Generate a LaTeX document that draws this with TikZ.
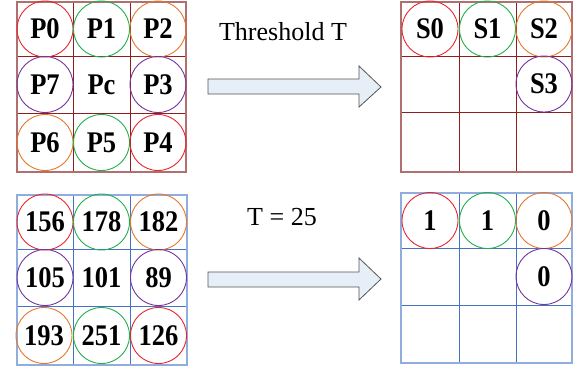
\documentclass[tikz,border=0pt]{standalone}
\usepackage{fontspec}
\setmainfont{Liberation Serif}
\definecolor{cred}{HTML}{E8252D}
\definecolor{cgreen}{HTML}{22AE4C}
\definecolor{corange}{HTML}{E5772B}
\definecolor{cpurple}{HTML}{7434A0}
\definecolor{rinner}{HTML}{8E1F1F}
\definecolor{router}{HTML}{B07070}
\definecolor{binner}{HTML}{4472C4}
\definecolor{bouter}{HTML}{8FAEDD}
\definecolor{arrfill}{HTML}{E6EEF7}
\definecolor{arrline}{HTML}{555555}
\newcommand\tall[1]{\scalebox{1}[1.13]{#1}}
\begin{document}
\begin{tikzpicture}[x=1pt,y=-1pt,
  lab/.style={font=\fontsize{26.5}{30}\selectfont\bfseries, inner sep=0pt},
  ring/.style={lab, circle, draw=#1, line width=0.9pt, minimum size=56pt},
  plain/.style={font=\fontsize{26}{30}\selectfont, inner sep=0pt},
  blockarrow/.style={fill=arrfill, draw=arrline, line width=0.8pt, line join=miter}]
\useasboundingbox (0,0) rectangle (576,373);
% ---------- grids ----------
% top-left
\draw[rinner, line width=1pt] (73,2) -- (73,172) (130,2) -- (130,172) (17,56) -- (186,56) (17,113) -- (186,113);
\draw[router, line width=1.8pt] (17,2) rectangle (186,172);
% bottom-left
\draw[binner, line width=1pt] (73,195) -- (73,365) (130,195) -- (130,365) (17,249) -- (187,249) (17,306) -- (187,306);
\draw[bouter, line width=1.8pt] (17,195) rectangle (187,365);
% top-right
\draw[rinner, line width=1pt] (459,2) -- (459,172) (516,2) -- (516,172) (401,56) -- (572,56) (401,112) -- (572,112);
\draw[router, line width=1.5pt] (401,2) rectangle (572,172);
% bottom-right
\draw[binner, line width=1pt] (459,193) -- (459,363) (516,193) -- (516,363) (401,248) -- (572,248) (401,305) -- (572,305);
\draw[bouter, line width=1.5pt] (401,193) rectangle (572,363);
% ---------- top-left labels ----------
\node[ring=cred]    (p0) at (45,29)   {\tall{P0}};
\node[ring=cgreen]  (p1) at (101.5,29) {\tall{P1}};
\node[ring=corange] (p2) at (158,29)  {\tall{P2}};
\node[ring=cpurple] (p7) at (45,84.5) {\tall{P7}};
\node[lab]          (pc) at (101.5,84.5) {\tall{Pc}};
\node[ring=cpurple] (p3) at (158,84.5) {\tall{P3}};
\node[ring=corange] (p6) at (45,142.5) {\tall{P6}};
\node[ring=cgreen]  (p5) at (101.5,142.5) {\tall{P5}};
\node[ring=cred]    (p4) at (158,142.5) {\tall{P4}};
% ---------- bottom-left values ----------
\node[ring=cred]    (v0) at (45,222)   {\tall{156}};
\node[ring=cgreen]  (v1) at (101.5,222) {\tall{178}};
\node[ring=corange] (v2) at (158.5,222) {\tall{182}};
\node[ring=cpurple] (v7) at (45,277.5) {\tall{105}};
\node[lab]          (vc) at (101.5,277.5) {\tall{101}};
\node[ring=cpurple] (v3) at (158.5,277.5) {\tall{89}};
\node[ring=corange] (v6) at (44,335.5) {\tall{193}};
\node[ring=cgreen]  (v5) at (101.5,335.5) {\tall{251}};
\node[ring=cred]    (v4) at (158.5,335.5) {\tall{126}};
% ---------- top-right ----------
\node[ring=cred]    (s0) at (430,29)   {\tall{S0}};
\node[ring=cgreen]  (s1) at (487.5,29) {\tall{S1}};
\node[ring=corange] (s2) at (544,29)   {\tall{S2}};
\node[ring=cpurple] (s3) at (544,84)   {\tall{S3}};
% ---------- bottom-right ----------
\node[ring=cred]    (b0) at (430,220.5)   {\tall{1}};
\node[ring=cgreen]  (b1) at (487.5,220.5) {\tall{1}};
\node[ring=corange] (b2) at (544,220.5)   {\tall{0}};
\node[ring=cpurple] (b3) at (544,276.5)   {\tall{0}};
% ---------- arrows ----------
\draw[blockarrow] (208,79) -- (359,79) -- (359,66) -- (381,87) -- (359,107) -- (359,94) -- (208,94) -- cycle;
\draw[blockarrow] (208,272) -- (359,272) -- (359,258) -- (381,279) -- (359,300) -- (359,287) -- (208,287) -- cycle;
\node[plain] (thr) at (283,32) {Threshold T};
\node[plain] (t25) at (282,217) {T = 25};
\end{tikzpicture}
\end{document}
